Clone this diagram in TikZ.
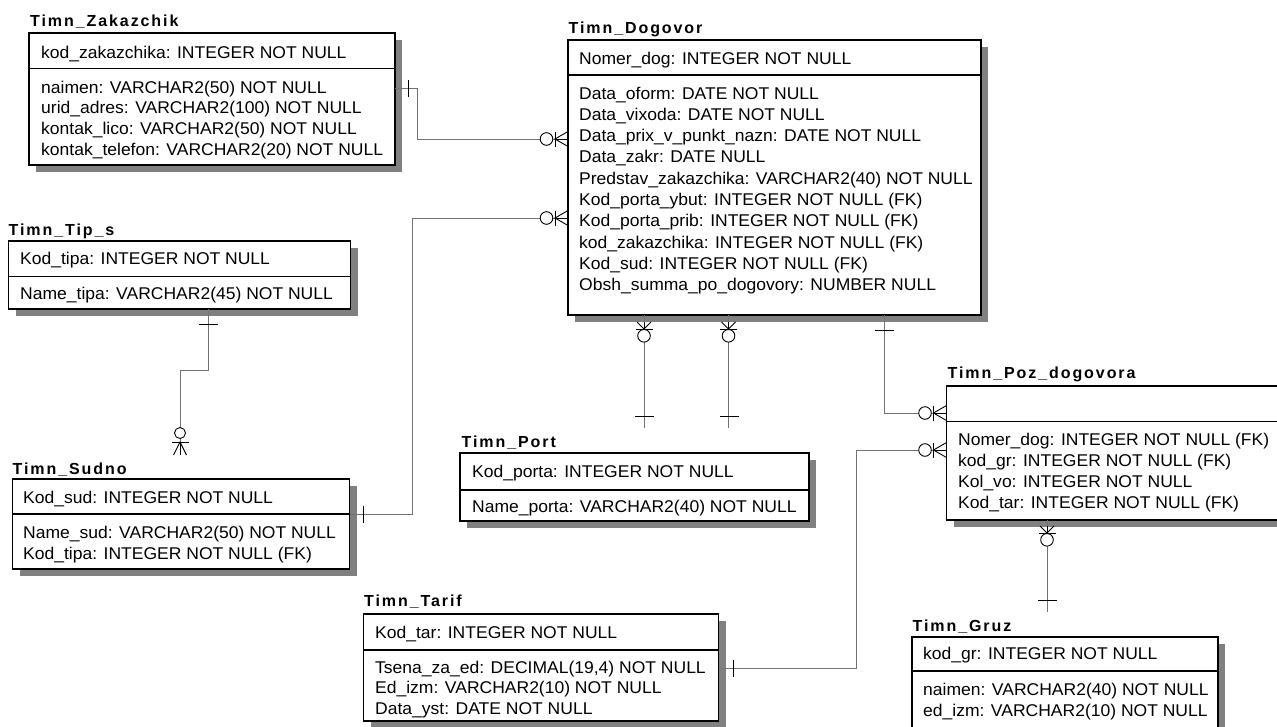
\documentclass[tikz,border=0pt]{standalone}
\usepackage{fontspec}
\setmainfont{Liberation Sans}[FakeStretch=1.03]
\newfontfamily\ttlfont{Liberation Sans}[LetterSpace=12]
\usetikzlibrary{shadows}
\tikzset{
  ent/.style={draw, line width=1.1pt, fill=white, inner sep=0pt, outer sep=0pt, anchor=north west,
    drop shadow={shadow xshift=7pt, shadow yshift=-7pt, fill=black!50, opacity=1}},
  ttl/.style={anchor=base west, inner sep=0pt, font=\ttlfont\bfseries\fontsize{16}{19}\selectfont},
  row/.style={anchor=base west, inner sep=0pt, font=\fontsize{17}{20}\selectfont},
  sepline/.style={line width=1.1pt},
  conn/.style={draw=black!55, line width=0.8pt},
  sym/.style={draw=black, line width=0.9pt}
}
% rows: name, x, first baseline, pitch, list
\newcommand\rowsat[5]{\foreach \t [count=\i] in {#5} {\node[row] (#1-\i) at (#2,{#3+(\i-1)*#4}) {\t};}}
% zero-or-many foot arriving from the left at a box's west side (x,y)
\newcommand\footW[2]{%
  \draw[sym] ({#1-13},#2) -- (#1,#2);
  \draw[sym] (#1,{#2-7.5}) -- ({#1-13},#2) -- (#1,{#2+7.5});
  \draw[sym] ({#1-13},{#2-7.5}) -- ({#1-13},{#2+7.5});
  \draw[sym,fill=white] ({#1-21.5},#2) circle[radius=6.3];}
% zero-or-many foot arriving from below at a box's bottom (x,y)
\newcommand\footN[2]{%
  \draw[sym] (#1,#2) -- (#1,{#2+7});
  \draw[sym] ({#1-7},#2) -- (#1,{#2+7}) -- ({#1+7},#2);
  \draw[sym] ({#1-8.5},{#2+7.5}) -- ({#1+8.5},{#2+7.5});
  \draw[sym,fill=white] (#1,{#2+13.8}) circle[radius=6.3];}
% one-bar, vertical / horizontal
\newcommand\barV[2]{\draw[sym] (#1,{#2-8.5}) -- (#1,{#2+8.5});}
\newcommand\barH[2]{\draw[sym] ({#1-9.5},#2) -- ({#1+9.5},#2);}
\begin{document}
\begin{tikzpicture}[x=1pt,y=-1pt]
\useasboundingbox (0,0) rectangle (1277,726);

% ---------- entity boxes ----------
\node[ent, minimum width=366, minimum height=132] (zak) at (29,33) {};
\node[ent, minimum width=413, minimum height=275] (dog) at (568,40) {};
\node[ent, minimum width=342, minimum height=68] (tip) at (8.5,241) {};
\node[ent, minimum width=337, minimum height=90] (sud) at (12.5,479) {};
\node[ent, minimum width=349, minimum height=68] (port) at (460,453) {};
\node[ent, minimum width=355, minimum height=107] (tar) at (363.5,614) {};
\node[ent, minimum width=400, minimum height=134] (poz) at (946.5,386) {};
\node[ent, minimum width=306, minimum height=120] (gruz) at (912,637) {};

% separators
\draw[sepline] (zak.west |- 0,68.5) -- (zak.east |- 0,68.5);
\draw[sepline] (dog.west |- 0,75) -- (dog.east |- 0,75);
\draw[sepline] (tip.west |- 0,276.5) -- (tip.east |- 0,276.5);
\draw[sepline] (sud.west |- 0,514) -- (sud.east |- 0,514);
\draw[sepline] (port.west |- 0,490) -- (port.east |- 0,490);
\draw[sepline] (tar.west |- 0,650) -- (tar.east |- 0,650);
\draw[sepline] (poz.west |- 0,421.5) -- (poz.east |- 0,421.5);
\draw[sepline] (gruz.west |- 0,671) -- (gruz.east |- 0,671);

% ---------- titles ----------
\node[ttl] (zakT) at (30,26) {Timn\_Zakazchik};
\node[ttl] (dogT) at (568.5,33) {Timn\_Dogovor};
\node[ttl] (tipT) at (8.5,235) {Timn\_Tip\_s};
\node[ttl] (sudT) at (12.5,474) {Timn\_Sudno};
\node[ttl] (portT) at (461.5,447) {Timn\_Port};
\node[ttl] (tarT) at (364,606) {Timn\_Tarif};
\node[ttl] (pozT) at (947.5,378) {Timn\_Poz\_dogovora};
\node[ttl] (gruzT) at (912.5,631) {Timn\_Gruz};

% ---------- attributes ----------
\node[row] (zak-k) at (41,58) {kod\_zakazchika: INTEGER NOT NULL};
\rowsat{zak}{41}{93}{20.7}{naimen: VARCHAR2(50) NOT NULL, urid\_adres: VARCHAR2(100) NOT NULL, kontak\_lico: VARCHAR2(50) NOT NULL, kontak\_telefon: VARCHAR2(20) NOT NULL}

\node[row] (dog-k) at (579,64) {Nomer\_dog: INTEGER NOT NULL};
\rowsat{dog}{579}{99}{21.3}{Data\_oform: DATE NOT NULL, Data\_vixoda: DATE NOT NULL, Data\_prix\_v\_punkt\_nazn: DATE NOT NULL, Data\_zakr: DATE NULL, Predstav\_zakazchika: VARCHAR2(40) NOT NULL, Kod\_porta\_ybut: INTEGER NOT NULL (FK), Kod\_porta\_prib: INTEGER NOT NULL (FK), kod\_zakazchika: INTEGER NOT NULL (FK), Kod\_sud: INTEGER NOT NULL (FK), Obsh\_summa\_po\_dogovory: NUMBER NULL}

\node[row] (tip-k) at (20,264) {Kod\_tipa: INTEGER NOT NULL};
\node[row] (tip-1) at (20,299) {Name\_tipa: VARCHAR2(45) NOT NULL};

\node[row] (sud-k) at (23,503) {Kod\_sud: INTEGER NOT NULL};
\rowsat{sud}{23}{538}{21}{Name\_sud: VARCHAR2(50) NOT NULL, Kod\_tipa: INTEGER NOT NULL (FK)}

\node[row] (port-k) at (472,477) {Kod\_porta: INTEGER NOT NULL};
\node[row] (port-1) at (472,512) {Name\_porta: VARCHAR2(40) NOT NULL};

\node[row] (tar-k) at (375,638) {Kod\_tar: INTEGER NOT NULL};
\rowsat{tar}{375}{673}{20.5}{{Tsena\_za\_ed: DECIMAL(19,4) NOT NULL}, Ed\_izm: VARCHAR2(10) NOT NULL, Data\_yst: DATE NOT NULL}

\rowsat{poz}{958}{445}{21.3}{Nomer\_dog: INTEGER NOT NULL (FK), kod\_gr: INTEGER NOT NULL (FK), Kol\_vo: INTEGER NOT NULL, Kod\_tar: INTEGER NOT NULL (FK)}

\node[row] (gruz-k) at (923,659) {kod\_gr: INTEGER NOT NULL};
\rowsat{gruz}{923}{695}{21}{naimen: VARCHAR2(40) NOT NULL, ed\_izm: VARCHAR2(10) NOT NULL}

% ---------- connectors ----------
% Zakazchik -> Dogovor
\draw[conn] (zak.east |- 0,88) -| (417,139) -- (dog.west |- 0,139);
\barV{408}{88}
\footW{568}{139}
% Sudno -> Dogovor
\draw[conn] (sud.east |- 0,514) -| (412,218) -- (dog.west |- 0,218);
\barV{363.5}{514}
\footW{568}{218}
% Tip_s -> Sudno
\coordinate (sudEnd) at (180,455);
\draw[conn] (208,0 |- tip.south) -- (208,370) -| (sudEnd);
\barH{208}{324}
\draw[sym] (180,442) -- (sudEnd);
\draw[sym] (173.5,455) -- (180,442) -- (186.5,455);
\draw[sym] (171.5,442) -- (188.5,442);
\draw[sym,fill=white] (180,433) circle[radius=5.5];
% Dogovor -> Port (two)
\coordinate (portEnd1) at (644,428);
\coordinate (portEnd2) at (728.5,428);
\draw[conn] (644,0 |- dog.south) -- (portEnd1);
\draw[conn] (728.5,0 |- dog.south) -- (portEnd2);
\footN{644}{322}
\footN{728.5}{322}
\barH{644.5}{416.5}
\barH{729}{416.5}
% Dogovor -> Poz_dogovora
\draw[conn] (884,0 |- dog.south) |- (poz.west |- 0,413);
\barH{884}{330}
\footW{946.5}{413}
% Tarif -> Poz_dogovora
\draw[conn] (tar.east |- 0,668) -| (856,450) -- (poz.west |- 0,450);
\barV{733.5}{668.5}
\footW{946.5}{450}
% Poz_dogovora -> Gruz
\coordinate (gruzEnd) at (1047,612);
\draw[conn] (1047,0 |- poz.south) -- (gruzEnd);
\footN{1047}{526}
\barH{1047.5}{600}
\end{tikzpicture}
\end{document}
